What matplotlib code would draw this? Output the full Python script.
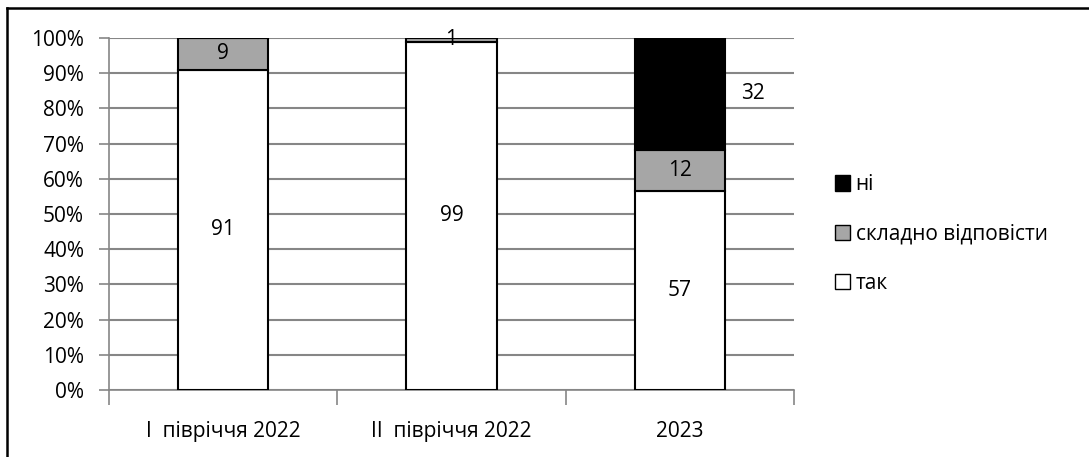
import matplotlib.pyplot as plt
import matplotlib.patches as mpatches
import matplotlib.lines as mlines
import numpy as np

plt.rcParams['font.family'] = ['Open Sans', 'DejaVu Sans']

# data
categories = ['I  півріччя 2022', 'II  півріччя 2022', '2023']
series_names = ['так', 'складно відповісти', 'ні']
tak = [91, 99, 57]
skladno = [9, 1, 12]
ni = [0, 0, 32]
colors = ['white', '#A6A6A6', 'black']

values = np.array([tak, skladno, ni], dtype=float)
shares = values / values.sum(axis=0) * 100

fs = 15
fig = plt.figure(figsize=(10.89, 4.57), dpi=100)
ax = fig.add_axes([109/1089, 1 - 390/457, 685/1089, 352/457])

x = np.arange(len(categories))
bottom = np.zeros(len(categories))
for i, name in enumerate(series_names):
    ax.bar(x, shares[i], 0.395, bottom=bottom, color=colors[i],
           edgecolor='black', linewidth=1.5, zorder=3, label=name)
    for j in range(len(categories)):
        if values[i, j] == 0:
            continue
        yc = bottom[j] + shares[i, j] / 2
        if colors[i] == 'black':
            ax.text(x[j] + 0.32, yc, f'{values[i, j]:.0f}', ha='center',
                    va='center', fontsize=fs, zorder=4)
        else:
            ax.text(x[j], yc, f'{values[i, j]:.0f}', ha='center',
                    va='center', fontsize=fs, zorder=4)
    bottom += shares[i]

ax.set_xlim(-0.5, 2.5)
ax.set_ylim(0, 100)
ax.set_yticks(np.arange(0, 101, 10))
ax.set_yticklabels([f'{v}%' for v in range(0, 101, 10)], fontsize=fs)
ax.yaxis.grid(True, color='#868686', linewidth=1.5, zorder=0)
ax.set_xticks(x)
ax.set_xticklabels(categories, fontsize=fs)
ax.set_xticks([-0.5, 0.5, 1.5, 2.5], minor=True)
ax.tick_params(axis='x', which='major', length=0, pad=22)
ax.tick_params(axis='x', which='minor', length=11, width=1.2, color='#868686')
ax.tick_params(axis='y', length=7, width=1.2, color='#868686', pad=11)
for s in ['top', 'right']:
    ax.spines[s].set_visible(False)
for s in ['left', 'bottom']:
    ax.spines[s].set_color('#868686')
    ax.spines[s].set_linewidth(1.2)

handles = [mpatches.Patch(facecolor=colors[i], edgecolor='black', label=series_names[i])
           for i in range(3)][::-1]
fig.legend(handles=handles, loc='center left', bbox_to_anchor=(816/1089, 1 - 234/457),
           frameon=False, fontsize=fs, handlelength=0.75, handleheight=0.75,
           handletextpad=0.25, labelspacing=1.35)

# outer frame: top and left edges only
fig.add_artist(mlines.Line2D([7/1089, 1], [1 - 8/457, 1 - 8/457],
                             transform=fig.transFigure, color='black', linewidth=1.8))
fig.add_artist(mlines.Line2D([7/1089, 7/1089], [0, 1 - 8/457],
                             transform=fig.transFigure, color='black', linewidth=1.8))

fig.savefig('out.png', dpi=100)
